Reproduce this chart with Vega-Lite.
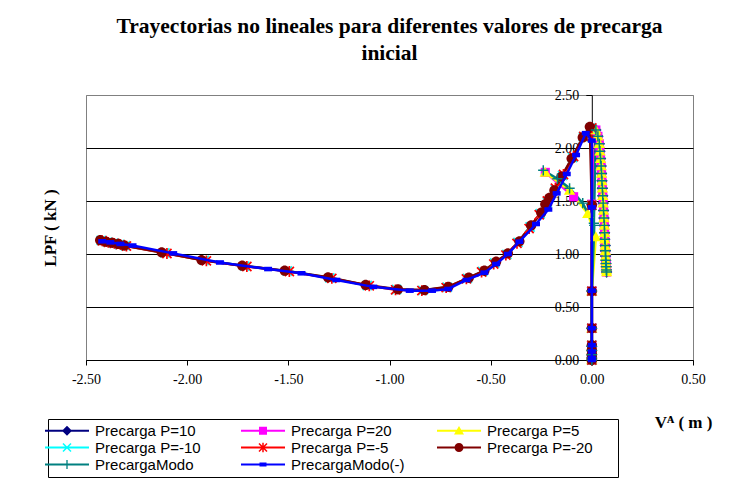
{
"$schema": "https://vega.github.io/schema/vega-lite/v6.json",
"width": 607, "height": 265,
"autosize": {"type": "none"},
"padding": {"left": 86, "top": 95, "right": 51, "bottom": 134},
"background": "white",
"config": {"view": {"stroke": "#808080", "strokeWidth": 1}},
"title": {"text": ["Trayectorias no lineales para diferentes valores de precarga", "inicial"], "font": "Liberation Serif", "fontSize": 21.5, "fontWeight": "bold", "color": "black", "anchor": "middle", "frame": "group", "offset": 24, "lineHeight": 27},
"data": {"values": [
{"s":"Precarga P=10","g":"a","x":0,"y":0},{"s":"Precarga P=10","g":"a","x":0,"y":0.02},{"s":"Precarga P=10","g":"a","x":0,"y":0.05},{"s":"Precarga P=10","g":"a","x":0,"y":0.09},{"s":"Precarga P=10","g":"a","x":0,"y":0.13},{"s":"Precarga P=10","g":"a","x":0,"y":0.3},{"s":"Precarga P=10","g":"a","x":0,"y":0.65},{"s":"Precarga P=10","g":"a","x":0,"y":1.47},
{"s":"Precarga P=10","g":"a","x":0.02,"y":2.17},{"s":"Precarga P=10","g":"a","x":0.03,"y":2.11},{"s":"Precarga P=10","g":"a","x":0.037,"y":2.04},{"s":"Precarga P=10","g":"a","x":0.04,"y":1.97},{"s":"Precarga P=10","g":"a","x":0.043,"y":1.9},{"s":"Precarga P=10","g":"a","x":0.046,"y":1.83},{"s":"Precarga P=10","g":"a","x":0.048,"y":1.76},{"s":"Precarga P=10","g":"a","x":0.05,"y":1.69},{"s":"Precarga P=10","g":"a","x":0.052,"y":1.62},{"s":"Precarga P=10","g":"a","x":0.054,"y":1.55},{"s":"Precarga P=10","g":"a","x":0.056,"y":1.48},{"s":"Precarga P=10","g":"a","x":0.058,"y":1.41},{"s":"Precarga P=10","g":"a","x":0.06,"y":1.34},{"s":"Precarga P=10","g":"a","x":0.062,"y":1.27},{"s":"Precarga P=10","g":"a","x":0.063,"y":1.2},{"s":"Precarga P=10","g":"a","x":0.064,"y":1.14},{"s":"Precarga P=10","g":"a","x":0.066,"y":1.08},{"s":"Precarga P=10","g":"a","x":0.067,"y":1.03},{"s":"Precarga P=10","g":"a","x":0.068,"y":0.98},{"s":"Precarga P=10","g":"a","x":0.069,"y":0.94},{"s":"Precarga P=10","g":"a","x":0.07,"y":0.91},{"s":"Precarga P=10","g":"a","x":0.071,"y":0.88},{"s":"Precarga P=10","g":"a","x":0.072,"y":0.85},{"s":"Precarga P=10","g":"a","x":0.073,"y":0.83},
{"s":"Precarga P=20","g":"a","x":0,"y":0},{"s":"Precarga P=20","g":"a","x":0,"y":0.02},{"s":"Precarga P=20","g":"a","x":0,"y":0.05},{"s":"Precarga P=20","g":"a","x":0,"y":0.09},{"s":"Precarga P=20","g":"a","x":0,"y":0.13},{"s":"Precarga P=20","g":"a","x":0,"y":0.3},{"s":"Precarga P=20","g":"a","x":0,"y":0.65},{"s":"Precarga P=20","g":"a","x":0,"y":1.47},
{"s":"Precarga P=20","g":"a","x":0.02,"y":2.17},{"s":"Precarga P=20","g":"a","x":0.03,"y":2.11},{"s":"Precarga P=20","g":"a","x":0.037,"y":2.04},{"s":"Precarga P=20","g":"a","x":0.04,"y":1.97},{"s":"Precarga P=20","g":"a","x":0.043,"y":1.9},{"s":"Precarga P=20","g":"a","x":0.046,"y":1.83},{"s":"Precarga P=20","g":"a","x":0.048,"y":1.76},{"s":"Precarga P=20","g":"a","x":0.05,"y":1.69},{"s":"Precarga P=20","g":"a","x":0.052,"y":1.62},{"s":"Precarga P=20","g":"a","x":0.054,"y":1.55},{"s":"Precarga P=20","g":"a","x":0.056,"y":1.48},{"s":"Precarga P=20","g":"a","x":0.058,"y":1.41},{"s":"Precarga P=20","g":"a","x":0.06,"y":1.34},{"s":"Precarga P=20","g":"a","x":0.062,"y":1.27},{"s":"Precarga P=20","g":"a","x":0.063,"y":1.2},{"s":"Precarga P=20","g":"a","x":0.064,"y":1.14},{"s":"Precarga P=20","g":"a","x":0.066,"y":1.08},{"s":"Precarga P=20","g":"a","x":0.067,"y":1.03},{"s":"Precarga P=20","g":"a","x":0.068,"y":0.98},{"s":"Precarga P=20","g":"a","x":0.069,"y":0.94},{"s":"Precarga P=20","g":"a","x":0.07,"y":0.91},{"s":"Precarga P=20","g":"a","x":0.071,"y":0.88},{"s":"Precarga P=20","g":"a","x":0.072,"y":0.85},{"s":"Precarga P=20","g":"a","x":0.073,"y":0.83},
{"s":"Precarga P=20","g":"b","x":-0.09,"y":1.54},{"s":"Precarga P=20","g":"b","x":-0.23,"y":1.77},
{"s":"Precarga P=5","g":"a","x":0,"y":0},{"s":"Precarga P=5","g":"a","x":0,"y":0.02},{"s":"Precarga P=5","g":"a","x":0,"y":0.05},{"s":"Precarga P=5","g":"a","x":0,"y":0.09},{"s":"Precarga P=5","g":"a","x":0,"y":0.13},{"s":"Precarga P=5","g":"a","x":0,"y":0.3},{"s":"Precarga P=5","g":"a","x":0,"y":0.65},{"s":"Precarga P=5","g":"a","x":0.02,"y":1.16},{"s":"Precarga P=5","g":"a","x":-0.02,"y":1.38},{"s":"Precarga P=5","g":"a","x":-0.11,"y":1.6},{"s":"Precarga P=5","g":"a","x":-0.23,"y":1.77},
{"s":"Precarga P=5","g":"b","x":0.02,"y":2.17},{"s":"Precarga P=5","g":"b","x":0.03,"y":2.11},{"s":"Precarga P=5","g":"b","x":0.037,"y":2.04},{"s":"Precarga P=5","g":"b","x":0.04,"y":1.97},{"s":"Precarga P=5","g":"b","x":0.043,"y":1.9},{"s":"Precarga P=5","g":"b","x":0.046,"y":1.83},{"s":"Precarga P=5","g":"b","x":0.048,"y":1.76},{"s":"Precarga P=5","g":"b","x":0.05,"y":1.69},{"s":"Precarga P=5","g":"b","x":0.052,"y":1.62},{"s":"Precarga P=5","g":"b","x":0.054,"y":1.55},{"s":"Precarga P=5","g":"b","x":0.056,"y":1.48},{"s":"Precarga P=5","g":"b","x":0.058,"y":1.41},{"s":"Precarga P=5","g":"b","x":0.06,"y":1.34},{"s":"Precarga P=5","g":"b","x":0.062,"y":1.27},{"s":"Precarga P=5","g":"b","x":0.063,"y":1.2},{"s":"Precarga P=5","g":"b","x":0.064,"y":1.14},{"s":"Precarga P=5","g":"b","x":0.066,"y":1.08},{"s":"Precarga P=5","g":"b","x":0.067,"y":1.03},{"s":"Precarga P=5","g":"b","x":0.068,"y":0.98},{"s":"Precarga P=5","g":"b","x":0.069,"y":0.94},{"s":"Precarga P=5","g":"b","x":0.07,"y":0.91},{"s":"Precarga P=5","g":"b","x":0.071,"y":0.88},{"s":"Precarga P=5","g":"b","x":0.072,"y":0.85},{"s":"Precarga P=5","g":"b","x":0.073,"y":0.83},
{"s":"Precarga P=-10","g":"a","x":0,"y":0},{"s":"Precarga P=-10","g":"a","x":0,"y":0.02},{"s":"Precarga P=-10","g":"a","x":0,"y":0.05},{"s":"Precarga P=-10","g":"a","x":0,"y":0.09},{"s":"Precarga P=-10","g":"a","x":0,"y":0.14},{"s":"Precarga P=-10","g":"a","x":0,"y":0.3},{"s":"Precarga P=-10","g":"a","x":0,"y":0.65},{"s":"Precarga P=-10","g":"a","x":0,"y":1.46},
{"s":"Precarga P=-10","g":"a","x":-0.005,"y":2.19},{"s":"Precarga P=-10","g":"a","x":-0.042,"y":2.105},{"s":"Precarga P=-10","g":"a","x":-0.095,"y":1.91},{"s":"Precarga P=-10","g":"a","x":-0.145,"y":1.74},{"s":"Precarga P=-10","g":"a","x":-0.18,"y":1.61},{"s":"Precarga P=-10","g":"a","x":-0.22,"y":1.49},{"s":"Precarga P=-10","g":"a","x":-0.255,"y":1.38},{"s":"Precarga P=-10","g":"a","x":-0.305,"y":1.255},{"s":"Precarga P=-10","g":"a","x":-0.365,"y":1.11},{"s":"Precarga P=-10","g":"a","x":-0.42,"y":0.995},{"s":"Precarga P=-10","g":"a","x":-0.48,"y":0.915},{"s":"Precarga P=-10","g":"a","x":-0.54,"y":0.835},{"s":"Precarga P=-10","g":"a","x":-0.615,"y":0.77},{"s":"Precarga P=-10","g":"a","x":-0.715,"y":0.686},{"s":"Precarga P=-10","g":"a","x":-0.835,"y":0.657},{"s":"Precarga P=-10","g":"a","x":-0.965,"y":0.665},{"s":"Precarga P=-10","g":"a","x":-1.11,"y":0.703},{"s":"Precarga P=-10","g":"a","x":-1.295,"y":0.775},{"s":"Precarga P=-10","g":"a","x":-1.505,"y":0.84},{"s":"Precarga P=-10","g":"a","x":-1.715,"y":0.886},{"s":"Precarga P=-10","g":"a","x":-1.915,"y":0.94},{"s":"Precarga P=-10","g":"a","x":-2.11,"y":1.01},{"s":"Precarga P=-10","g":"a","x":-2.305,"y":1.078},{"s":"Precarga P=-10","g":"a","x":-2.335,"y":1.09},{"s":"Precarga P=-10","g":"a","x":-2.365,"y":1.102},{"s":"Precarga P=-10","g":"a","x":-2.395,"y":1.112},{"s":"Precarga P=-10","g":"a","x":-2.425,"y":1.128},
{"s":"Precarga P=-5","g":"a","x":0,"y":0},{"s":"Precarga P=-5","g":"a","x":0,"y":0.02},{"s":"Precarga P=-5","g":"a","x":0,"y":0.05},{"s":"Precarga P=-5","g":"a","x":0,"y":0.09},{"s":"Precarga P=-5","g":"a","x":0,"y":0.14},{"s":"Precarga P=-5","g":"a","x":0,"y":0.3},{"s":"Precarga P=-5","g":"a","x":0,"y":0.65},{"s":"Precarga P=-5","g":"a","x":0,"y":1.46},
{"s":"Precarga P=-5","g":"a","x":0,"y":2.19},{"s":"Precarga P=-5","g":"a","x":-0.04,"y":2.11},{"s":"Precarga P=-5","g":"a","x":-0.09,"y":1.92},{"s":"Precarga P=-5","g":"a","x":-0.14,"y":1.75},{"s":"Precarga P=-5","g":"a","x":-0.18,"y":1.62},{"s":"Precarga P=-5","g":"a","x":-0.22,"y":1.5},{"s":"Precarga P=-5","g":"a","x":-0.26,"y":1.37},{"s":"Precarga P=-5","g":"a","x":-0.31,"y":1.24},{"s":"Precarga P=-5","g":"a","x":-0.37,"y":1.1},{"s":"Precarga P=-5","g":"a","x":-0.425,"y":0.99},{"s":"Precarga P=-5","g":"a","x":-0.485,"y":0.905},{"s":"Precarga P=-5","g":"a","x":-0.545,"y":0.83},{"s":"Precarga P=-5","g":"a","x":-0.62,"y":0.765},{"s":"Precarga P=-5","g":"a","x":-0.72,"y":0.683},{"s":"Precarga P=-5","g":"a","x":-0.84,"y":0.655},{"s":"Precarga P=-5","g":"a","x":-0.97,"y":0.662},{"s":"Precarga P=-5","g":"a","x":-1.1,"y":0.7},{"s":"Precarga P=-5","g":"a","x":-1.285,"y":0.77},{"s":"Precarga P=-5","g":"a","x":-1.495,"y":0.835},{"s":"Precarga P=-5","g":"a","x":-1.705,"y":0.882},{"s":"Precarga P=-5","g":"a","x":-1.905,"y":0.935},{"s":"Precarga P=-5","g":"a","x":-2.1,"y":1.005},{"s":"Precarga P=-5","g":"a","x":-2.3,"y":1.075},{"s":"Precarga P=-5","g":"a","x":-2.33,"y":1.088},{"s":"Precarga P=-5","g":"a","x":-2.36,"y":1.1},{"s":"Precarga P=-5","g":"a","x":-2.39,"y":1.11},{"s":"Precarga P=-5","g":"a","x":-2.42,"y":1.125},
{"s":"Precarga P=-20","g":"a","x":0,"y":0},{"s":"Precarga P=-20","g":"a","x":0,"y":0.02},{"s":"Precarga P=-20","g":"a","x":0,"y":0.05},{"s":"Precarga P=-20","g":"a","x":0,"y":0.09},{"s":"Precarga P=-20","g":"a","x":0,"y":0.14},{"s":"Precarga P=-20","g":"a","x":0,"y":0.3},{"s":"Precarga P=-20","g":"a","x":0,"y":0.65},{"s":"Precarga P=-20","g":"a","x":0,"y":1.46},
{"s":"Precarga P=-20","g":"a","x":-0.01,"y":2.2},{"s":"Precarga P=-20","g":"a","x":-0.045,"y":2.1},{"s":"Precarga P=-20","g":"a","x":-0.1,"y":1.9},{"s":"Precarga P=-20","g":"a","x":-0.15,"y":1.73},{"s":"Precarga P=-20","g":"a","x":-0.185,"y":1.6},{"s":"Precarga P=-20","g":"a","x":-0.21,"y":1.53},{"s":"Precarga P=-20","g":"a","x":-0.23,"y":1.47},{"s":"Precarga P=-20","g":"a","x":-0.25,"y":1.39},{"s":"Precarga P=-20","g":"a","x":-0.3,"y":1.27},{"s":"Precarga P=-20","g":"a","x":-0.358,"y":1.12},{"s":"Precarga P=-20","g":"a","x":-0.415,"y":1.006},{"s":"Precarga P=-20","g":"a","x":-0.473,"y":0.927},{"s":"Precarga P=-20","g":"a","x":-0.531,"y":0.842},{"s":"Precarga P=-20","g":"a","x":-0.608,"y":0.776},{"s":"Precarga P=-20","g":"a","x":-0.709,"y":0.69},{"s":"Precarga P=-20","g":"a","x":-0.827,"y":0.66},{"s":"Precarga P=-20","g":"a","x":-0.958,"y":0.667},{"s":"Precarga P=-20","g":"a","x":-1.118,"y":0.708},{"s":"Precarga P=-20","g":"a","x":-1.304,"y":0.78},{"s":"Precarga P=-20","g":"a","x":-1.518,"y":0.843},{"s":"Precarga P=-20","g":"a","x":-1.728,"y":0.89},{"s":"Precarga P=-20","g":"a","x":-1.929,"y":0.943},{"s":"Precarga P=-20","g":"a","x":-2.126,"y":1.016},{"s":"Precarga P=-20","g":"a","x":-2.31,"y":1.08},{"s":"Precarga P=-20","g":"a","x":-2.34,"y":1.095},{"s":"Precarga P=-20","g":"a","x":-2.37,"y":1.105},{"s":"Precarga P=-20","g":"a","x":-2.4,"y":1.115},{"s":"Precarga P=-20","g":"a","x":-2.43,"y":1.13},
{"s":"PrecargaModo","g":"a","x":0,"y":0},{"s":"PrecargaModo","g":"a","x":0,"y":0.02},{"s":"PrecargaModo","g":"a","x":0,"y":0.05},{"s":"PrecargaModo","g":"a","x":0,"y":0.09},{"s":"PrecargaModo","g":"a","x":0,"y":0.13},{"s":"PrecargaModo","g":"a","x":0,"y":0.3},{"s":"PrecargaModo","g":"a","x":0,"y":0.65},{"s":"PrecargaModo","g":"a","x":0.012,"y":1.27},{"s":"PrecargaModo","g":"a","x":-0.045,"y":1.48},{"s":"PrecargaModo","g":"a","x":-0.11,"y":1.62},{"s":"PrecargaModo","g":"a","x":-0.17,"y":1.71},{"s":"PrecargaModo","g":"a","x":-0.24,"y":1.79},
{"s":"PrecargaModo","g":"b","x":0.01,"y":1.29},{"s":"PrecargaModo","g":"b","x":0.02,"y":2.17},{"s":"PrecargaModo","g":"b","x":0.03,"y":2.11},{"s":"PrecargaModo","g":"b","x":0.037,"y":2.04},{"s":"PrecargaModo","g":"b","x":0.04,"y":1.97},{"s":"PrecargaModo","g":"b","x":0.043,"y":1.9},{"s":"PrecargaModo","g":"b","x":0.046,"y":1.83},{"s":"PrecargaModo","g":"b","x":0.048,"y":1.76},{"s":"PrecargaModo","g":"b","x":0.05,"y":1.69},{"s":"PrecargaModo","g":"b","x":0.052,"y":1.62},{"s":"PrecargaModo","g":"b","x":0.054,"y":1.55},{"s":"PrecargaModo","g":"b","x":0.056,"y":1.48},{"s":"PrecargaModo","g":"b","x":0.058,"y":1.41},{"s":"PrecargaModo","g":"b","x":0.06,"y":1.34},{"s":"PrecargaModo","g":"b","x":0.062,"y":1.27},{"s":"PrecargaModo","g":"b","x":0.063,"y":1.2},{"s":"PrecargaModo","g":"b","x":0.064,"y":1.14},{"s":"PrecargaModo","g":"b","x":0.066,"y":1.08},{"s":"PrecargaModo","g":"b","x":0.067,"y":1.03},{"s":"PrecargaModo","g":"b","x":0.068,"y":0.98},{"s":"PrecargaModo","g":"b","x":0.069,"y":0.94},{"s":"PrecargaModo","g":"b","x":0.07,"y":0.91},{"s":"PrecargaModo","g":"b","x":0.071,"y":0.88},{"s":"PrecargaModo","g":"b","x":0.072,"y":0.85},{"s":"PrecargaModo","g":"b","x":0.073,"y":0.83},
{"s":"PrecargaModo(-)","g":"a","x":0,"y":0},{"s":"PrecargaModo(-)","g":"a","x":0,"y":0.02},{"s":"PrecargaModo(-)","g":"a","x":0,"y":0.08},{"s":"PrecargaModo(-)","g":"a","x":0,"y":0.14},{"s":"PrecargaModo(-)","g":"a","x":0,"y":0.3},{"s":"PrecargaModo(-)","g":"a","x":0,"y":0.654},{"s":"PrecargaModo(-)","g":"a","x":0,"y":1.44},{"s":"PrecargaModo(-)","g":"a","x":0,"y":2.07},
{"s":"PrecargaModo(-)","g":"a","x":-0.03,"y":2.14},{"s":"PrecargaModo(-)","g":"a","x":-0.078,"y":1.934},{"s":"PrecargaModo(-)","g":"a","x":-0.124,"y":1.755},{"s":"PrecargaModo(-)","g":"a","x":-0.174,"y":1.572},{"s":"PrecargaModo(-)","g":"a","x":-0.215,"y":1.42},{"s":"PrecargaModo(-)","g":"a","x":-0.276,"y":1.283},{"s":"PrecargaModo(-)","g":"a","x":-0.358,"y":1.116},{"s":"PrecargaModo(-)","g":"a","x":-0.415,"y":1.0},{"s":"PrecargaModo(-)","g":"a","x":-0.473,"y":0.906},{"s":"PrecargaModo(-)","g":"a","x":-0.531,"y":0.824},{"s":"PrecargaModo(-)","g":"a","x":-0.62,"y":0.755},{"s":"PrecargaModo(-)","g":"a","x":-0.71,"y":0.67},{"s":"PrecargaModo(-)","g":"a","x":-0.79,"y":0.654},{"s":"PrecargaModo(-)","g":"a","x":-0.9,"y":0.654},{"s":"PrecargaModo(-)","g":"a","x":-1.08,"y":0.69},{"s":"PrecargaModo(-)","g":"a","x":-1.263,"y":0.755},{"s":"PrecargaModo(-)","g":"a","x":-1.435,"y":0.818},{"s":"PrecargaModo(-)","g":"a","x":-1.6,"y":0.858},{"s":"PrecargaModo(-)","g":"a","x":-1.838,"y":0.92},{"s":"PrecargaModo(-)","g":"a","x":-2.069,"y":1.006},{"s":"PrecargaModo(-)","g":"a","x":-2.27,"y":1.08},{"s":"PrecargaModo(-)","g":"a","x":-2.33,"y":1.095},{"s":"PrecargaModo(-)","g":"a","x":-2.38,"y":1.11},{"s":"PrecargaModo(-)","g":"a","x":-2.42,"y":1.12}
]},
"encoding": {
  "x": {"field": "x", "type": "quantitative", "scale": {"domain": [-2.5, 0.5], "nice": false, "zero": false},
        "axis": {"title": "Vᴬ ( m )", "values": [-2.5, -2, -1.5, -1, -0.5, 0, 0.5], "format": ".2f", "labelExpr": "replace(datum.label, '\u2212', '-')", "grid": false,
                 "labelFont": "Liberation Serif", "labelFontSize": 14, "labelColor": "black", "labelFlush": false, "labelOverlap": false, "labelPadding": 7,
                 "domainColor": "black", "domainWidth": 1, "tickColor": "black", "tickSize": 5,
                 "titleFont": "Liberation Serif", "titleFontSize": 17, "titleFontWeight": "bold", "titleColor": "black",
                 "titleX": 597, "titleY": 62, "titleAlign": "center", "titleBaseline": "middle"}},
  "y": {"field": "y", "type": "quantitative", "scale": {"domain": [0, 2.5], "nice": false},
        "axis": {"title": "LPF ( kN )", "values": [0, 0.5, 1, 1.5, 2, 2.5], "format": ".2f", "offset": -505.8,
                 "grid": true, "gridColor": {"condition": {"test": "datum.value >= 2.5", "value": "#808080"}, "value": "black"}, "gridWidth": 1,
                 "labelFont": "Liberation Serif", "labelFontSize": 14, "labelColor": "black", "labelFlush": false, "labelOverlap": false, "labelPadding": 7,
                 "domainColor": "black", "domainWidth": 1, "tickColor": "black", "tickSize": 6,
                 "titleFont": "Liberation Serif", "titleFontSize": 17, "titleFontWeight": "bold", "titleColor": "black",
                 "titleX": -541.8, "titleY": 132.5, "titleAngle": -90, "titleAlign": "center", "titleBaseline": "middle"}}
},
"layer": [
  {"transform": [{"filter": "datum.s !== 'PrecargaModo(-)'"}],
   "mark": {"type": "line", "strokeWidth": 2.5},
   "encoding": {"color": {"field": "s", "type": "nominal", "legend": null,
       "scale": {"domain": ["Precarga P=10","Precarga P=20","Precarga P=5","Precarga P=-10","Precarga P=-5","Precarga P=-20","PrecargaModo","PrecargaModo(-)"],
                 "range": ["#000080","#FF00FF","#FFFF00","#00FFFF","#FF0000","#800000","#008080","#0000FF"]}},
     "detail": {"field": "g"}, "order": {"value": null}}},
  {"transform": [{"filter": "datum.s !== 'PrecargaModo(-)'"}],
   "mark": {"type": "point", "filled": true, "size": 130, "strokeWidth": 0, "opacity": 1},
   "encoding": {"color": {"field": "s", "type": "nominal", "legend": null,
       "scale": {"domain": ["Precarga P=10","Precarga P=20","Precarga P=5","Precarga P=-10","Precarga P=-5","Precarga P=-20","PrecargaModo","PrecargaModo(-)"],
                 "range": ["#000080","#FF00FF","#FFFF00","#00FFFF","#FF0000","#800000","#008080","#0000FF"]}},
     "shape": {"field": "s", "type": "nominal", "legend": null,
       "scale": {"domain": ["Precarga P=10","Precarga P=20","Precarga P=5","Precarga P=-10","Precarga P=-5","Precarga P=-20","PrecargaModo","PrecargaModo(-)"],
                 "range": ["M0,-1L1,0L0,1L-1,0Z","M-0.8,-0.8H0.8V0.8H-0.8Z","M0,-0.95L1,0.75L-1,0.75Z",
                           "M-0.694,-0.906L0.906,0.694L0.694,0.906L-0.906,-0.694ZM0.694,-0.906L0.906,-0.694L-0.694,0.906L-0.906,0.694Z",
                           "M-0.694,-0.906L0.906,0.694L0.694,0.906L-0.906,-0.694ZM0.694,-0.906L0.906,-0.694L-0.694,0.906L-0.906,0.694ZM-0.15,-0.95H0.15V0.95H-0.15Z",
                           "M-0.9,0A0.9,0.9 0 1,1 0.9,0A0.9,0.9 0 1,1 -0.9,0Z",
                           "M-0.9,-0.13H0.9V0.13H-0.9ZM-0.13,-0.9H0.13V0.9H-0.13Z",
                           "M-0.7,-0.4H0.7V0.4H-0.7Z"]}}}},
  {"transform": [{"filter": "datum.s === 'PrecargaModo(-)'"}],
   "mark": {"type": "line", "strokeWidth": 2.5},
   "encoding": {"color": {"field": "s", "type": "nominal", "legend": null,
       "scale": {"domain": ["Precarga P=10","Precarga P=20","Precarga P=5","Precarga P=-10","Precarga P=-5","Precarga P=-20","PrecargaModo","PrecargaModo(-)"],
                 "range": ["#000080","#FF00FF","#FFFF00","#00FFFF","#FF0000","#800000","#008080","#0000FF"]}},
     "detail": {"field": "g"}, "order": {"value": null}}},
  {"transform": [{"filter": "datum.s === 'PrecargaModo(-)'"}],
   "mark": {"type": "point", "filled": true, "size": 130, "strokeWidth": 0, "opacity": 1, "shape": "M-0.7,-0.4H0.7V0.4H-0.7Z", "color": "#0000FF"}},
  {"mark": {"type": "point", "filled": true, "size": 100, "strokeWidth": 0, "opacity": 0},
   "encoding": {
     "color": {"field": "s", "type": "nominal",
       "scale": {"domain": ["Precarga P=10","Precarga P=20","Precarga P=5","Precarga P=-10","Precarga P=-5","Precarga P=-20","PrecargaModo","PrecargaModo(-)"],
                 "range": ["#000080","#FF00FF","#FFFF00","#00FFFF","#FF0000","#800000","#008080","#0000FF"]},
       "legend": {"title": "\u00a0", "titleOrient": "left", "titlePadding": 7.5, "titleFontSize": 15, "orient": "none", "legendX": -38, "legendY": 324, "columns": 3, "direction": "horizontal", "symbolSize": 100, "symbolStrokeWidth": 0, "symbolOpacity": 1,
                  "labelFont": "Liberation Sans", "labelFontSize": 15, "labelColor": "black", "labelOffset": 20.6, "labelLimit": 400,
                  "columnPadding": 8, "rowPadding": 1, "padding": 4, "strokeColor": "black", "fillColor": "white"}},
     "shape": {"field": "s", "type": "nominal",
       "scale": {"domain": ["Precarga P=10","Precarga P=20","Precarga P=5","Precarga P=-10","Precarga P=-5","Precarga P=-20","PrecargaModo","PrecargaModo(-)"],
                 "range": ["M-6.4,0L-6.4,0M31,0L31,0M-4.4,-0.22H4.4V0.22H-4.4ZM0,-1L1,0L0,1L-1,0Z",
                           "M-6.4,0L-6.4,0M31,0L31,0M-4.4,-0.22H4.4V0.22H-4.4ZM-0.8,-0.8H0.8V0.8H-0.8Z",
                           "M-6.4,0L-6.4,0M31,0L31,0M-4.4,-0.22H4.4V0.22H-4.4ZM0,-0.95L1,0.75L-1,0.75Z",
                           "M-6.4,0L-6.4,0M31,0L31,0M-4.4,-0.22H4.4V0.22H-4.4ZM-0.694,-0.906L0.906,0.694L0.694,0.906L-0.906,-0.694ZM0.694,-0.906L0.906,-0.694L-0.694,0.906L-0.906,0.694Z",
                           "M-6.4,0L-6.4,0M31,0L31,0M-4.4,-0.22H4.4V0.22H-4.4ZM-0.694,-0.906L0.906,0.694L0.694,0.906L-0.906,-0.694ZM0.694,-0.906L0.906,-0.694L-0.694,0.906L-0.906,0.694ZM-0.15,-0.95H0.15V0.95H-0.15Z",
                           "M-6.4,0L-6.4,0M31,0L31,0M-4.4,-0.22H4.4V0.22H-4.4ZM-0.9,0A0.9,0.9 0 1,1 0.9,0A0.9,0.9 0 1,1 -0.9,0Z",
                           "M-6.4,0L-6.4,0M31,0L31,0M-4.4,-0.22H4.4V0.22H-4.4ZM-0.9,-0.13H0.9V0.13H-0.9ZM-0.13,-0.9H0.13V0.9H-0.13Z",
                           "M-6.4,0L-6.4,0M31,0L31,0M-4.4,-0.22H4.4V0.22H-4.4ZM-0.7,-0.4H0.7V0.4H-0.7Z"]},
       "legend": {"title": "\u00a0", "titleOrient": "left", "titlePadding": 7.5, "titleFontSize": 15, "orient": "none", "legendX": -38, "legendY": 324, "columns": 3, "direction": "horizontal", "symbolSize": 100, "symbolStrokeWidth": 0, "symbolOpacity": 1,
                  "labelFont": "Liberation Sans", "labelFontSize": 15, "labelColor": "black", "labelOffset": 20.6, "labelLimit": 400,
                  "columnPadding": 8, "rowPadding": 1, "padding": 4, "strokeColor": "black", "fillColor": "white"}}}}
],
"resolve": {"scale": {"color": "independent", "shape": "independent"}}
}
